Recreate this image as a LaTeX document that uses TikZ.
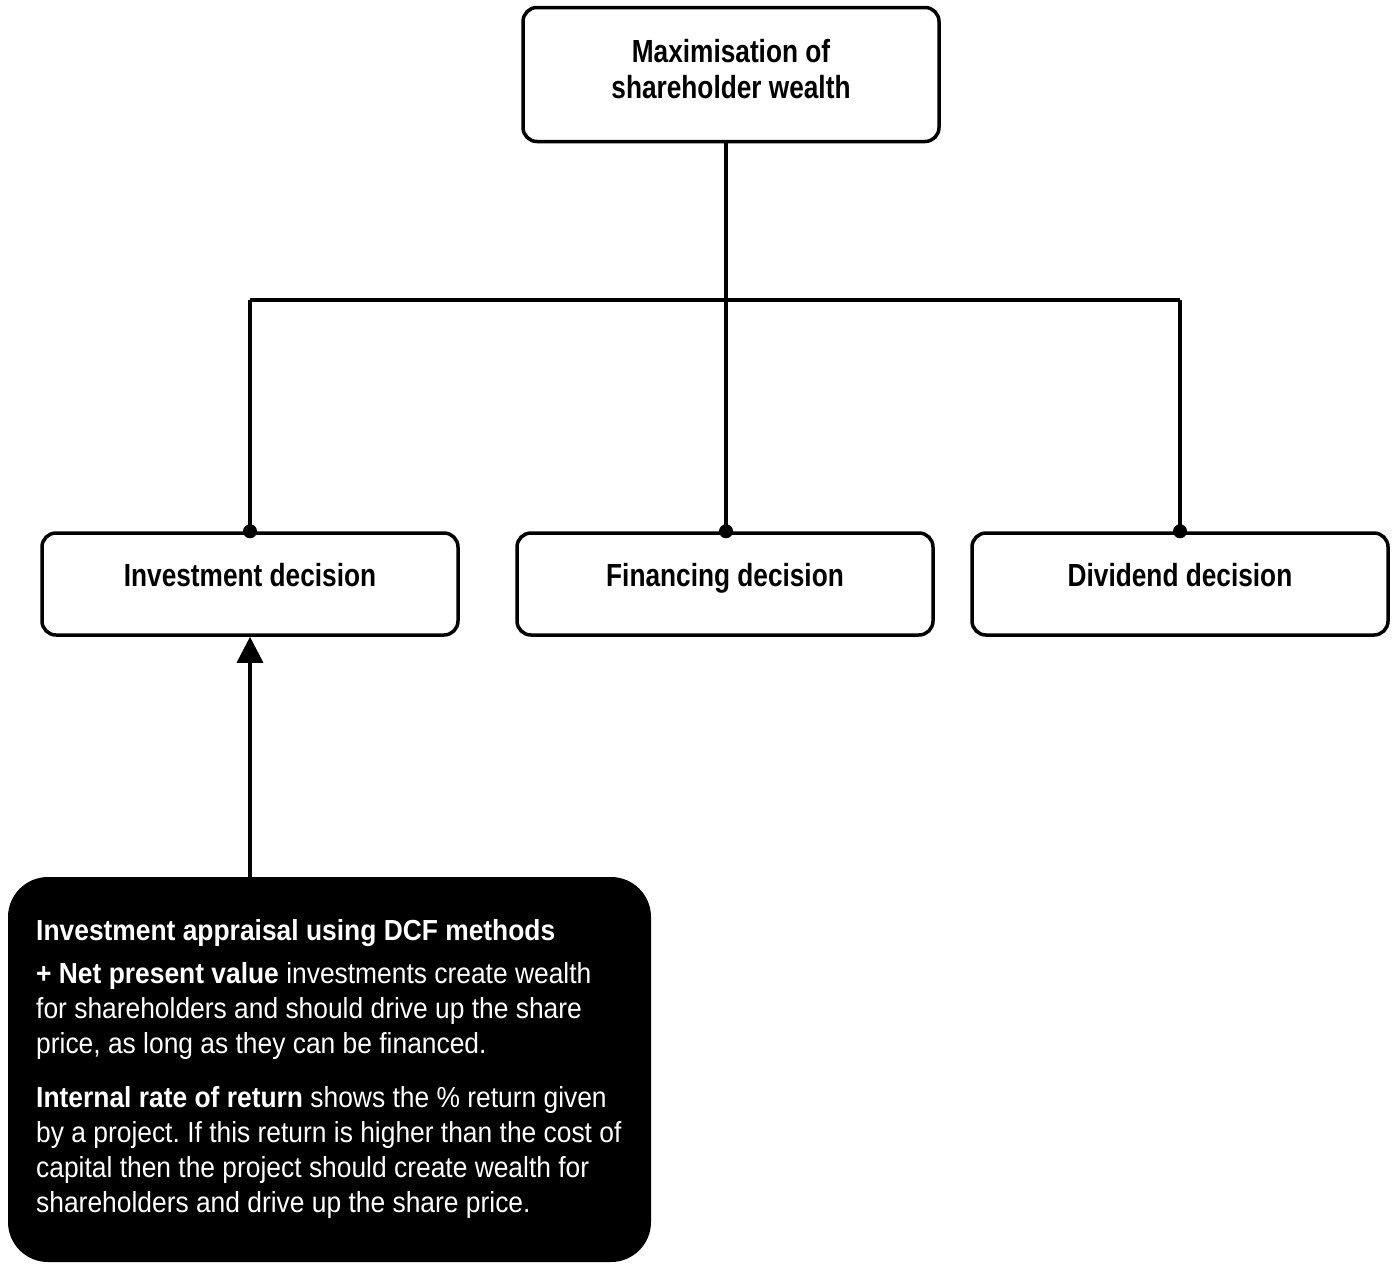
\documentclass[tikz,border=0pt]{standalone}
\usepackage{fontspec}
\setmainfont{Liberation Sans}[FakeStretch=0.82]
\newfontfamily\notefont{Liberation Sans}[FakeStretch=0.91]
\usetikzlibrary{arrows.meta}
\frenchspacing
\begin{document}
\begin{tikzpicture}[x=1pt,y=-1pt,
  decision/.style={draw, line width=3.5pt, rounded corners=14pt,
    minimum width=416pt, minimum height=102pt, inner sep=0pt,
    font=\fontsize{32}{36}\selectfont\bfseries, align=center},
  link/.style={line width=3.5pt},
  joint/.style={circle, fill, inner sep=0pt, minimum size=14pt},
  note/.style={fill=black, rounded corners=40pt, minimum width=643pt,
    minimum height=385pt, inner sep=0pt}]
\useasboundingbox (0,0) rectangle (1396,1269);

% goal at the top
\node[decision, minimum height=134pt, text depth=12pt] (goal) at (731,74.5)
  {Maximisation of\\shareholder wealth};

% the three decisions
\node[decision, text depth=18pt] (inv) at (250,584) {Investment decision};
\node[decision, text depth=18pt] (fin) at (725,584) {Financing decision};
\node[decision, text depth=18pt] (div) at (1180,584) {Dividend decision};

% tree connectors
\coordinate (bar) at (726,300);
\draw[link] (goal.south -| bar) -- (fin.north -| bar);
\draw[link] (inv.north |- bar) -- (div.north |- bar);
\draw[link] (inv.north |- bar) -- (inv.north);
\draw[link] (div.north |- bar) -- (div.north);
\node[joint] (jinv) at (inv.north) {};
\node[joint] (jfin) at (fin.north -| bar) {};
\node[joint] (jdiv) at (div.north) {};

% DCF appraisal note
\node[note] (dcf) at (329.5,1069.5) {};
\node[anchor=north west, inner sep=0pt, text=white, align=left,
  font=\notefont\fontsize{29}{35}\selectfont] (dcftext) at (36,919)
  {\textbf{Investment appraisal using DCF methods}\\[8pt]
   \textbf{+ Net present value} investments create wealth\\
   for shareholders and should drive up the share\\
   price, as long as they can be financed.\\[19pt]
   \textbf{Internal rate of return} shows the \% return given\\
   by a project. If this return is higher than the cost of\\
   capital then the project should create wealth for\\
   shareholders and drive up the share price.};

\draw[link, -{Triangle[length=26pt, width=26pt]}] (inv.south |- dcf.north) -- (inv.south);
\end{tikzpicture}
\end{document}
